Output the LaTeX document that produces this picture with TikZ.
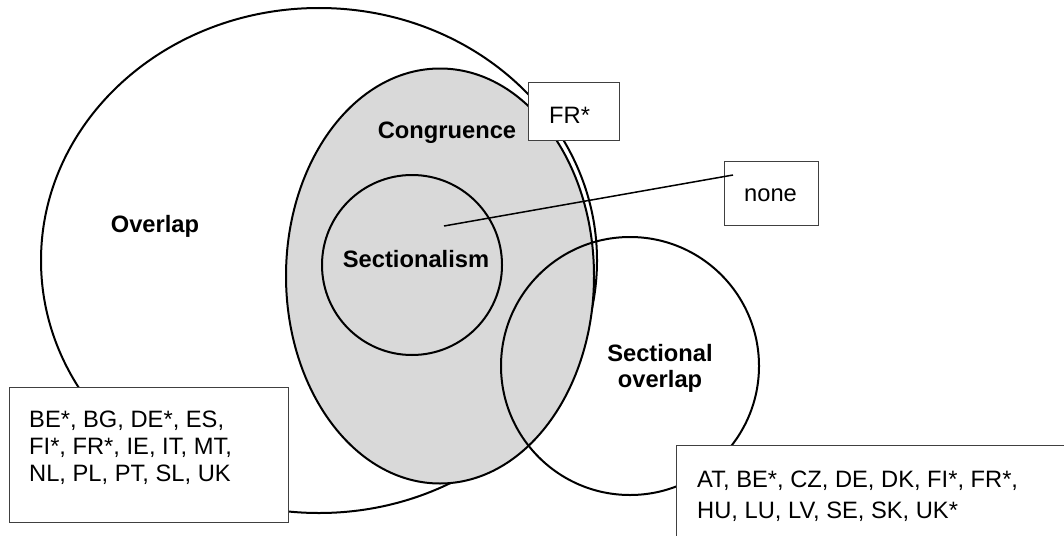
\documentclass[tikz,border=0pt]{standalone}
\usepackage{fontspec}
\setmainfont{Liberation Sans}
\usetikzlibrary{shapes.geometric}
\begin{document}
\begin{tikzpicture}[x=1pt,y=-1pt,
  venn/.style={draw=black,line width=2pt,inner sep=0pt,outer sep=0pt},
  lbl/.style={font=\fontsize{23.7}{26.3}\selectfont\bfseries,inner sep=0pt},
  boxnode/.style={draw=black!75,line width=1.1pt,fill=white,inner sep=0pt,anchor=north west},
  txt/.style={font=\fontsize{23.7}{27}\selectfont,inner sep=0pt,align=left,anchor=north west},
  leader/.style={draw=black,line width=1.5pt}]
\useasboundingbox (0,0) rectangle (1064,535);
\clip (0,0) rectangle (1064,535);
% circles
\node[venn,ellipse,minimum width=556,minimum height=505] (overlapE) at (319,260.5) {};
\node[venn,ellipse,fill=gray!30,minimum width=308,minimum height=415] (congE) at (440,276) {};
\node[venn,circle,minimum size=180] (sectE) at (412,265) {};
\node[venn,circle,minimum size=258] (soE) at (630,366) {};
% labels
\node[lbl,anchor=base] (overlapL) at (155,232) {Overlap};
\node[lbl,anchor=base] (congL) at (447,138) {Congruence};
\node[lbl,anchor=base] (sectL) at (416,267) {Sectionalism};
\node[lbl,anchor=north,align=center] (soL) at (660,344.2) {Sectional\\overlap};
% boxes
\node[boxnode,minimum width=91,minimum height=58] (frbox) at (528,82) {};
\node[txt,anchor=base west] (frtxt) at (549,123) {FR*};
\node[boxnode,minimum width=94,minimum height=64] (nonebox) at (724,161) {};
\node[txt,anchor=base west] (nonetxt) at (744,201) {none};
\node[boxnode,minimum width=279,minimum height=135] (lbox) at (9,387) {};
\node[txt] (ltxt) at (29,411.2) {BE*, BG, DE*, ES,\\FI*, FR*, IE, IT, MT,\\NL, PL, PT, SL, UK};
\node[boxnode,minimum width=420,minimum height=130] (rbox) at (676,445) {};
\node[txt,font=\fontsize{23.7}{31}\selectfont] (rtxt) at (697,471.2) {AT, BE*, CZ, DE, DK, FI*, FR*,\\HU, LU, LV, SE, SK, UK*};
% leader line
\coordinate (leadS) at (444,226);
\coordinate (leadE) at (733,175);
\draw[leader] (leadS) -- (leadE);
\end{tikzpicture}
\end{document}
